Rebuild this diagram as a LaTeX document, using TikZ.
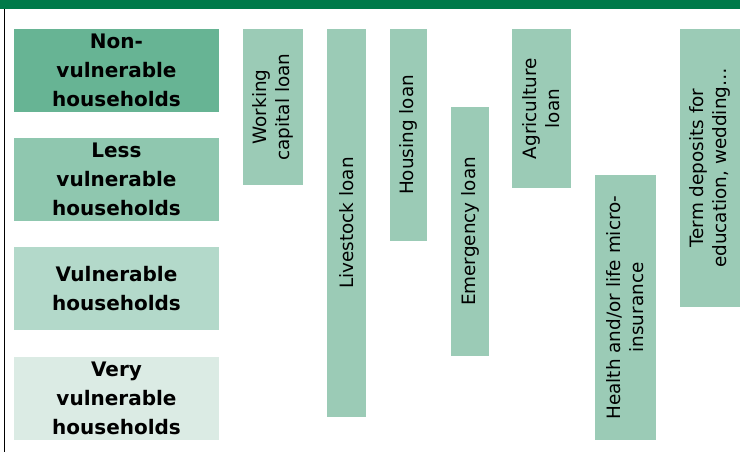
\documentclass[tikz,border=0pt]{standalone}
\usepackage{fontspec}
\setmainfont{DejaVu Sans}
\definecolor{bargreen}{RGB}{0,122,74}
\definecolor{levelA}{RGB}{103,180,148}
\definecolor{levelB}{RGB}{143,199,175}
\definecolor{levelC}{RGB}{179,217,202}
\definecolor{levelD}{RGB}{219,235,228}
\definecolor{prodgreen}{RGB}{155,203,182}
\begin{document}
\begin{tikzpicture}[x=0.75pt, y=-0.75pt,
    level/.style={minimum width=153.75pt, minimum height=62.25pt, inner sep=0pt, align=center,
        font=\fontsize{15}{21.75}\selectfont\bfseries},
    prod/.style={fill=prodgreen, rotate=90, inner sep=0pt, align=center,
        font=\fontsize{13.8}{17.25}\selectfont}]
    \useasboundingbox (0, 0) rectangle (740, 452);
    \fill[bargreen] (0, 0) rectangle (740, 9);
    \draw[line width=0.9pt] (4.5, 9) -- (4.5, 452);
    % vulnerability levels
    \node[level, fill=levelA] (nonvul) at (116.5, 70.5) {Non-\\vulnerable\\households};
    \node[level, fill=levelB] (lessvul) at (116.5, 179.5) {Less\\vulnerable\\households};
    \node[level, fill=levelC] (vul) at (116.5, 288.5) {Vulnerable\\households};
    \node[level, fill=levelD] (veryvul) at (116.5, 398.5) {Very\\vulnerable\\households};
    % products
    \node[prod, minimum width=117pt, minimum height=45pt] (working) at (273, 107) {Working\\capital loan};
    \node[prod, minimum width=291pt, minimum height=29.25pt] (livestock) at (346.5, 223) {Livestock loan};
    \node[prod, minimum width=159pt, minimum height=27.75pt] (housing) at (408.5, 135) {Housing loan};
    \node[prod, minimum width=186.75pt, minimum height=28.5pt] (emergency) at (470, 231.5) {Emergency loan};
    \node[prod, minimum width=119.25pt, minimum height=44.25pt] (agri) at (541.5, 108.5) {Agriculture\\loan};
    \node[prod, minimum width=198.75pt, minimum height=45.75pt] (health) at (625.5, 307.5) {Health and/or life micro-\\insurance};
    \node[prod, minimum width=208.5pt, minimum height=45pt] (term) at (710, 168) {Term deposits for\\education, wedding…};
\end{tikzpicture}
\end{document}
